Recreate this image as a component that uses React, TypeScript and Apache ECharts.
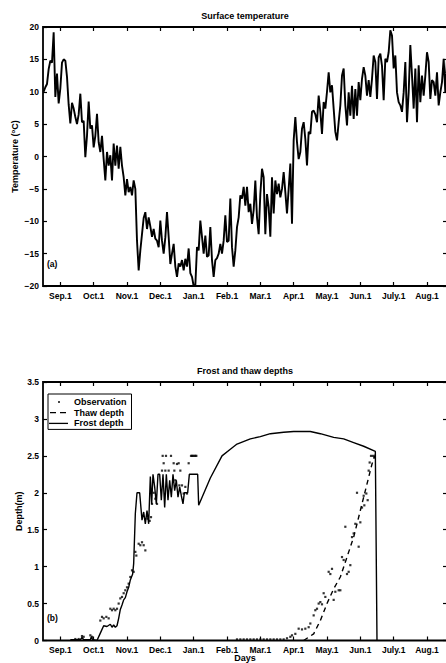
import React, { useEffect, useRef } from 'react';
import * as echarts from 'echarts';

// x unit: months counted from Sep.1 (Sep.1 = 0, Oct.1 = 1, ...)
const MONTH_LABELS = ['Sep.1', 'Oct.1', 'Nov.1', 'Dec.1', 'Jan.1', 'Feb.1', 'Mar.1', 'Apr.1', 'May.1', 'Jun.1', 'July.1', 'Aug.1'];
const MONTH_TICKS = [0, 1, 2, 3, 4, 5, 6, 7, 8, 9, 10, 11];
const TEMP_TICKS = [-20, -15, -10, -5, 0, 5, 10, 15, 20];
const DEPTH_TICKS = [0, 0.5, 1, 1.5, 2, 2.5, 3, 3.5];

// Surface temperature, sampled every 0.05 month starting at -0.5
const TEMP_START = -0.5;
const TEMP_STEP = 0.05;
const TEMPERATURE = [
  10.0, 10.7, 11.2, 13.5, 14.8, 14.5, 19.2, 9.2, 12.8, 8.2, 10.5, 14.5, 15.0, 14.8, 12.3, 8.0, 5.1, 8.3, 7.4, 6.1,
  5.0, 6.5, 9.7, 5.3, 5.5, -0.1, 3.2, 8.5, 4.3, 4.8, 1.4, 3.2, 6.6, 2.2, 0.7, 3.2, -0.4, -3.7, 0.7, -1.4,
  0.2, -3.7, 2.0, -1.4, 1.7, -1.9, 1.5, -1.4, -3.2, -6.0, -3.5, -5.5, -4.7, -6.0, -3.7, -5.0, -13.0, -17.6, -14.5, -12.0,
  -9.5, -8.6, -11.2, -9.4, -10.8, -12.4, -11.2, -12.7, -13.0, -14.0, -9.9, -13.0, -15.0, -12.5, -8.6, -12.4, -16.6, -15.0, -13.5, -17.0,
  -18.6, -16.5, -17.0, -16.0, -17.6, -15.8, -17.0, -14.2, -18.0, -18.6, -20.0, -19.9, -14.0, -14.5, -9.9, -12.4, -15.0, -12.2, -15.5, -15.3,
  -10.9, -16.0, -18.6, -16.0, -15.7, -15.0, -13.5, -15.0, -13.0, -9.1, -13.2, -13.0, -6.5, -14.0, -17.0, -14.5, -10.9, -9.4, -6.0, -6.5,
  -4.7, -7.6, -4.7, -8.6, -7.3, -10.4, -8.3, -3.7, -9.4, -12.0, -5.8, -1.9, -3.2, -12.0, -5.8, -7.8, -12.4, -3.2, -8.8, -3.7,
  -5.8, -4.2, -6.3, -5.0, -2.4, -5.5, -8.8, -5.0, -1.1, -10.4, 2.5, 6.1, 2.2, -0.4, 0.7, 4.3, 5.3, 2.7, -1.4, 3.8,
  3.5, 6.9, 7.1, 6.5, 5.3, 9.4, 6.9, 3.5, 8.4, 7.4, 10.0, 13.0, 9.9, 11.0, 7.4, 3.8, 2.5, 5.3, 7.9, 12.5,
  13.6, 7.9, 4.8, 9.9, 6.3, 10.9, 5.8, 10.4, 6.3, 11.5, 8.7, 12.0, 13.8, 12.5, 9.4, 11.8, 9.2, 12.0, 15.6, 14.6,
  8.9, 15.3, 15.9, 14.0, 8.7, 15.1, 14.6, 16.1, 19.5, 18.7, 13.6, 15.6, 9.9, 8.4, 7.9, 6.9, 9.9, 14.6, 5.3, 9.9,
  17.2, 12.5, 7.4, 13.6, 5.3, 14.1, 8.4, 12.5, 9.4, 12.5, 16.1, 14.6, 8.9, 11.8, 11.5, 9.4, 13.0, 7.9, 9.9, 11.5,
  15.1, 9.9, 15.0,
];

const FROST_MONTH = [
  0.3, 0.6, 0.65, 0.7, 0.9, 0.93, 0.97, 1.1, 1.2, 1.3, 1.4, 1.5, 1.55, 1.6, 1.65, 1.7, 1.75, 1.8, 1.85, 1.9,
  1.95, 2.0, 2.05, 2.1, 2.17, 2.2, 2.25, 2.3, 2.38, 2.45, 2.5, 2.55, 2.6, 2.65, 2.7, 2.74, 2.78, 2.83, 2.88, 2.93,
  2.98, 3.03, 3.08, 3.13, 3.18, 3.23, 3.28, 3.33, 3.38, 3.43, 3.48, 3.53, 3.58, 3.63, 3.68, 3.72, 3.82, 3.87, 4.12, 4.15,
  4.5, 4.85, 5.1, 5.3, 5.7, 6.0, 6.3, 6.7, 7.0, 7.5, 7.8, 8.2, 8.5, 8.8, 9.1, 9.45, 9.5,
];
const FROST_DEPTH = [
  0.01, 0.01, 0.04, 0.01, 0.01, 0.05, 0.01, 0.0, 0.1, 0.2, 0.19, 0.22, 0.18, 0.21, 0.18, 0.2, 0.3, 0.42, 0.48, 0.55,
  0.58, 0.66, 0.72, 0.82, 0.9, 1.04, 1.72, 2.0, 2.0, 1.63, 1.74, 1.58, 1.76, 1.58, 2.22, 1.85, 2.25, 2.08, 1.85, 2.25,
  2.25, 1.9, 2.25, 1.8, 2.25, 1.9, 2.17, 1.94, 2.25, 2.03, 2.17, 1.94, 2.08, 1.96, 1.85, 2.0, 2.0, 2.25, 2.25, 1.83,
  2.2, 2.5, 2.59, 2.66, 2.73, 2.76, 2.8, 2.82, 2.83, 2.83, 2.8, 2.75, 2.73, 2.68, 2.63, 2.56, 0.0,
];

const THAW_MONTH = [7.3, 7.4, 7.6, 7.8, 8.0, 8.2, 8.4, 8.6, 8.8, 9.0, 9.2, 9.35, 9.45];
const THAW_DEPTH = [0.0, 0.03, 0.09, 0.27, 0.5, 0.7, 0.86, 1.13, 1.4, 1.76, 2.12, 2.39, 2.52];

// Observations: [month, depth]
const OBSERVATIONS = [
  [0.45, 0.02], [0.55, 0.02], [0.65, 0.06], [0.7, 0.05], [0.9, 0.07], [0.95, 0.05],
  [1.2, 0.27], [1.25, 0.32], [1.3, 0.3], [1.38, 0.32], [1.45, 0.3], [1.5, 0.43], [1.55, 0.41], [1.6, 0.43],
  [1.65, 0.41], [1.7, 0.43], [1.75, 0.5], [1.8, 0.57], [1.85, 0.59], [1.9, 0.64], [1.95, 0.68], [2.0, 0.72],
  [2.05, 0.77], [2.1, 0.86], [2.15, 0.95], [2.2, 0.93], [2.25, 1.2], [2.28, 1.15], [2.35, 1.31], [2.4, 1.29],
  [2.45, 1.33], [2.5, 1.29], [2.55, 1.22], [2.62, 1.65], [2.68, 1.62],
  [2.72, 1.67], [2.75, 1.85], [2.8, 2.0], [2.85, 1.92], [2.9, 1.85], [3.05, 2.3], [3.07, 2.5], [3.1, 2.4],
  [3.15, 2.3], [3.17, 2.5], [3.25, 2.3], [3.32, 2.5], [3.4, 2.4], [3.42, 2.3], [3.45, 2.17], [3.5, 2.39],
  [3.55, 2.4], [3.57, 2.1], [3.6, 2.3], [3.65, 2.1], [3.7, 1.99], [3.75, 2.08], [3.8, 1.99], [3.85, 2.4],
  [3.92, 2.5], [3.95, 2.5], [3.98, 2.5], [4.02, 2.5], [4.05, 2.5], [4.08, 2.5],
  [5.3, 0.015], [5.4, 0.015], [5.5, 0.015], [5.6, 0.015], [5.7, 0.015], [5.8, 0.015], [5.9, 0.015], [6.0, 0.015],
  [6.1, 0.015], [6.2, 0.015], [6.3, 0.015], [6.4, 0.015], [6.5, 0.015], [6.6, 0.015], [6.7, 0.015],
  [6.8, 0.03], [6.9, 0.05], [6.95, 0.07], [7.05, 0.09], [7.15, 0.16], [7.25, 0.15], [7.35, 0.16], [7.45, 0.18],
  [7.5, 0.23], [7.6, 0.34], [7.65, 0.41], [7.7, 0.43], [7.75, 0.5], [7.8, 0.52], [7.85, 0.49], [7.9, 0.64],
  [7.95, 0.59], [8.05, 0.93], [8.1, 0.9], [8.15, 0.97], [8.2, 0.55], [8.25, 0.66], [8.35, 0.68], [8.4, 0.68],
  [8.45, 1.13], [8.5, 1.09], [8.55, 1.54], [8.6, 0.9], [8.65, 0.93], [8.7, 1.02], [8.75, 1.4], [8.8, 1.45],
  [8.85, 1.58], [8.9, 2.0], [8.95, 1.27], [9.0, 1.6], [9.05, 1.8], [9.1, 1.96], [9.12, 1.83], [9.18, 1.99],
  [9.22, 1.9], [9.25, 2.3], [9.28, 2.41], [9.32, 2.5], [9.38, 2.5], [9.42, 2.48],
];

const FONT = '"Liberation Sans", Arial, Helvetica, sans-serif';
const X_MIN = -0.52;
const X_MAX = 11.6;

function xAxis(gridIndex: number, position: string, showLabels: boolean, name?: string) {
  return {
    type: 'value',
    gridIndex,
    position,
    min: X_MIN,
    max: X_MAX,
    name: name || '',
    nameLocation: 'middle',
    nameGap: 12.5,
    nameMoveOverlap: false,
    nameTextStyle: { fontSize: 9, fontWeight: 'bold', color: '#000', fontFamily: FONT },
    axisLine: { show: false, onZero: false },
    axisTick: { show: true, inside: true, length: 4, customValues: MONTH_TICKS, lineStyle: { color: '#000', width: 1.2 } },
    axisLabel: {
      show: showLabels,
      customValues: MONTH_TICKS,
      formatter: (v: number) => MONTH_LABELS[Math.round(v)] || '',
      margin: 5,
      fontSize: 8.5,
      fontWeight: 'bold',
      color: '#000',
      fontFamily: FONT,
    },
    splitLine: { show: false },
  };
}

function yAxis(gridIndex: number, position: string, min: number, max: number, ticks: number[], showLabels: boolean, name?: string, nameGap?: number) {
  return {
    type: 'value',
    gridIndex,
    position,
    min,
    max,
    name: name || '',
    nameLocation: 'middle',
    nameGap: nameGap || 20,
    nameMoveOverlap: false,
    nameTextStyle: {
      fontSize: 9,
      fontWeight: 'bold',
      color: '#000',
      fontFamily: FONT,
      rich: { s: { fontSize: 6, fontWeight: 'bold', color: '#000', fontFamily: FONT, verticalAlign: 'top' } },
    },
    axisLine: { show: false, onZero: false },
    axisTick: { show: true, inside: true, length: 4, customValues: ticks, lineStyle: { color: '#000', width: 1.2 } },
    axisLabel: {
      show: showLabels,
      customValues: ticks,
      formatter: (v: number) => String(v).replace('-', '\u2212'),
      margin: 4,
      fontSize: 8.5,
      fontWeight: 'bold',
      color: '#000',
      fontFamily: FONT,
    },
    splitLine: { show: false },
  };
}

export default function App() {
  const ref = useRef<HTMLDivElement>(null);

  useEffect(() => {
    if (!ref.current) return;
    const chart = echarts.init(ref.current, undefined, { renderer: 'svg' });
    const tempData = TEMPERATURE.map((v, i) => [TEMP_START + i * TEMP_STEP, v]);
    const frostData = FROST_MONTH.map((m, i) => [m, FROST_DEPTH[i]]);
    const thawData = THAW_MONTH.map((m, i) => [m, THAW_DEPTH[i]]);

    chart.setOption({
      animation: false,
      backgroundColor: '#fff',
      grid: [
        { left: 43, top: 27, width: 404, height: 259, outerBoundsMode: 'none', containLabel: false, show: true, borderColor: '#000', borderWidth: 1.8, backgroundColor: 'transparent' },
        { left: 43, top: 382, width: 404, height: 258.5, outerBoundsMode: 'none', containLabel: false, show: true, borderColor: '#000', borderWidth: 1.8, backgroundColor: 'transparent' },
      ],
      xAxis: [
        xAxis(0, 'bottom', true),
        xAxis(0, 'top', false),
        xAxis(1, 'bottom', true, 'Days'),
        xAxis(1, 'top', false),
      ],
      yAxis: [
        yAxis(0, 'left', -20, 20, TEMP_TICKS, true, 'Temperature ({s|o}C)', 24),
        yAxis(0, 'right', -20, 20, TEMP_TICKS, false),
        yAxis(1, 'left', 0, 3.5, DEPTH_TICKS, true, 'Depth(m)', 20),
        yAxis(1, 'right', 0, 3.5, DEPTH_TICKS, false),
      ],
      legend: {
        data: [
          { name: 'Observation', icon: 'path://M0,0M20,9M9.1,3.6L10.9,3.6L10.9,5.4L9.1,5.4Z' },
          { name: 'Thaw depth', icon: 'path://M0,0M20,9M1,3.85L7,3.85L7,5.15L1,5.15ZM11,3.85L17,3.85L17,5.15L11,5.15Z' },
          { name: 'Frost depth', icon: 'path://M0,0M20,9M0,3.85L19,3.85L19,5.15L0,5.15Z' },
        ],
        orient: 'vertical',
        left: 48,
        top: 394,
        itemWidth: 20,
        itemHeight: 9,
        itemGap: 0.7,
        padding: [3, 5, 1, 1],
        borderColor: '#000',
        borderWidth: 1,
        backgroundColor: '#fff',
        selectedMode: false,
        itemStyle: { color: '#000', borderWidth: 0 },
        textStyle: { fontSize: 9, fontWeight: 'bold', color: '#000', fontFamily: FONT, lineHeight: 10 },
      },
      graphic: [
        { type: 'text', x: 245, y: 16, style: { text: 'Surface temperature', textAlign: 'center', textVerticalAlign: 'middle', font: `bold 9px ${FONT}`, fill: '#000' } },
        { type: 'text', x: 245, y: 371, style: { text: 'Frost and thaw depths', textAlign: 'center', textVerticalAlign: 'middle', font: `bold 9px ${FONT}`, fill: '#000' } },
        { type: 'text', x: 47, y: 264, style: { text: '(a)', textAlign: 'left', textVerticalAlign: 'middle', font: `bold 8.5px ${FONT}`, fill: '#000' } },
        { type: 'text', x: 47, y: 618, style: { text: '(b)', textAlign: 'left', textVerticalAlign: 'middle', font: `bold 8.5px ${FONT}`, fill: '#000' } },
      ],
      series: [
        {
          name: 'Surface temperature',
          type: 'line',
          xAxisIndex: 0,
          yAxisIndex: 0,
          data: tempData,
          symbol: 'none',
          showSymbol: false,
          lineStyle: { color: '#000', width: 1.9 },
          clip: true,
        },
        {
          name: 'Observation',
          type: 'scatter',
          xAxisIndex: 2,
          yAxisIndex: 2,
          data: OBSERVATIONS,
          symbol: 'rect',
          symbolSize: 2.2,
          itemStyle: { color: '#000' },
        },
        {
          name: 'Thaw depth',
          type: 'line',
          xAxisIndex: 2,
          yAxisIndex: 2,
          data: thawData,
          symbol: 'none',
          showSymbol: false,
          itemStyle: { color: '#000' },
          lineStyle: { color: '#000', width: 1.4, type: [5, 4] },
        },
        {
          name: 'Frost depth',
          type: 'line',
          xAxisIndex: 2,
          yAxisIndex: 2,
          data: frostData,
          symbol: 'none',
          showSymbol: false,
          itemStyle: { color: '#000' },
          lineStyle: { color: '#000', width: 1.4 },
        },
      ],
    });
    return () => chart.dispose();
  }, []);

  return <div ref={ref} style={{ position: 'fixed', left: 0, top: 0, width: 446, height: 663 }} />;
}
